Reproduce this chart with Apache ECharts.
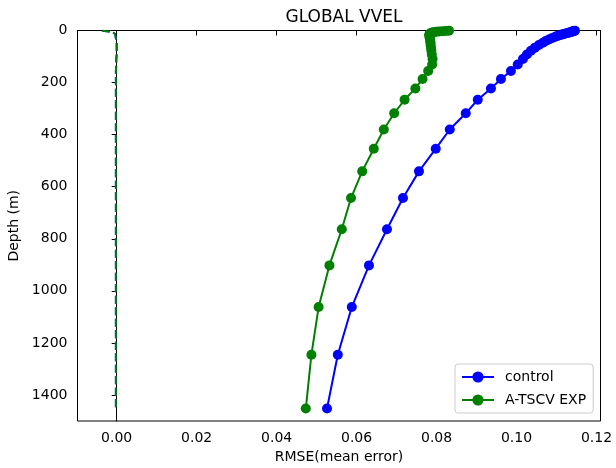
<!DOCTYPE html>
<html>
<head>
<meta charset="utf-8">
<script src="https://cdn.jsdelivr.net/npm/echarts@6/dist/echarts.min.js"></script>
<style>
  html, body { margin: 0; padding: 0; background: #fff; }
  #chart { width: 616px; height: 468px; }
</style>
</head>
<body>
<div id="chart"></div>
<script>
var chart = echarts.init(document.getElementById('chart'));

// depth levels (m)
var depths = [0.494, 1.541, 2.646, 3.819, 5.078, 6.441, 7.93, 9.573, 11.405, 13.467,
  15.81, 18.496, 21.599, 25.211, 29.445, 34.434, 40.344, 47.374, 55.764, 65.807,
  77.854, 92.326, 109.729, 130.666, 155.851, 186.126, 222.475, 266.04, 318.127, 380.213,
  453.938, 541.089, 643.567, 763.333, 902.339, 1062.44, 1245.29, 1452.25];

// RMSE per level
var controlRmse = [0.1146, 0.1144, 0.1142, 0.1140, 0.1138, 0.1135, 0.1132, 0.1128, 0.1123, 0.1118,
  0.1113, 0.1108, 0.1101, 0.1096, 0.1088, 0.1081, 0.1073, 0.1066, 0.1056, 0.1046,
  0.1036, 0.1026, 0.1016, 0.1003, 0.0986, 0.0961, 0.0936, 0.0903, 0.0873, 0.0833,
  0.0798, 0.0756, 0.0716, 0.0676, 0.0631, 0.0588, 0.0553, 0.0526];
var expRmse = [0.0831, 0.0823, 0.0815, 0.0806, 0.0799, 0.0793, 0.0789, 0.0786, 0.0784, 0.0783,
  0.0782, 0.0782, 0.0782, 0.0783, 0.0783, 0.0784, 0.0784, 0.0785, 0.0785, 0.0786,
  0.0787, 0.0788, 0.0790, 0.0789, 0.0779, 0.0765, 0.0747, 0.0720, 0.0694, 0.0668,
  0.0643, 0.0614, 0.0586, 0.0563, 0.0532, 0.0505, 0.0487, 0.0473];

// mean error per level (dashed)
var controlMean = [-0.0037, -0.0031, -0.0025, -0.0019, -0.0014, -0.0010, -0.0008, -0.0006, -0.0005, -0.0004,
  -0.0004, -0.0003, -0.0003, -0.0002, -0.0002, -0.0001, 0.0000, 0.0000, 0.0000, 0.0000,
  0.0000, 0.0000, -0.0001, -0.0001, -0.0002, -0.0002, -0.0002, -0.0002, -0.0002, -0.0002,
  -0.0002, -0.0002, -0.0002, -0.0002, -0.0002, -0.0002, -0.0002, -0.0002];
var expMean = [-0.0037, -0.0031, -0.0025, -0.0019, -0.0014, -0.0010, -0.0008, -0.0006, -0.0005, -0.0004,
  -0.0004, -0.0003, -0.0003, -0.0002, -0.0002, -0.0001, 0.0000, 0.0000, 0.0000, 0.0000,
  0.0000, 0.0000, -0.0001, -0.0001, -0.0002, -0.0002, -0.0002, -0.0002, -0.0002, -0.0002,
  -0.0002, -0.0002, -0.0002, -0.0002, -0.0002, -0.0002, -0.0002, -0.0002];

var xTicks = [0, 0.02, 0.04, 0.06, 0.08, 0.10, 0.12];
var yTicks = [0, 200, 400, 600, 800, 1000, 1200, 1400];

function pairs(vals) {
  return vals.map(function (v, i) { return [v, depths[i]]; });
}

var font = 'DejaVu Sans';

var option = {
  animation: false,
  textStyle: { fontFamily: font },
  title: {
    text: 'GLOBAL VVEL',
    left: 339,
    textAlign: 'center',
    top: 4,
    textStyle: { fontFamily: font, fontSize: 17, fontWeight: 'normal', color: '#000' }
  },
  grid: {
    left: 77.5, top: 30.5, right: 15.5, bottom: 47,
    outerBoundsMode: 'none',
    containLabel: false,
    show: true, borderColor: '#000', borderWidth: 1
  },
  legend: {
    orient: 'vertical',
    left: 455, top: 364,
    padding: [6, 7, 6, 6],
    itemGap: 9,
    itemWidth: 32,
    itemHeight: 14,
    borderColor: '#cccccc',
    borderWidth: 1,
    borderRadius: 3,
    backgroundColor: 'rgba(255,255,255,0.8)',
    data: ['control', 'A-TSCV EXP'],
    textStyle: { fontFamily: font, fontSize: 14, color: '#000', padding: [0, 0, 0, 6] }
  },
  xAxis: {
    type: 'value',
    min: -0.0098,
    max: 0.121,
    name: 'RMSE(mean error)',
    nameLocation: 'middle',
    nameGap: 28,
    nameTextStyle: { fontFamily: font, fontSize: 14, color: '#000' },
    splitLine: { show: false },
    axisLine: { show: true, lineStyle: { color: '#000', width: 1 } },
    axisTick: { show: true, inside: false, length: 5, lineStyle: { color: '#000' }, customValues: xTicks },
    axisLabel: {
      margin: 10, fontFamily: font, fontSize: 14, color: '#000',
      customValues: xTicks,
      formatter: function (v) { return v.toFixed(2); }
    }
  },
  yAxis: {
    type: 'value',
    inverse: true,
    min: 0,
    max: 1500,
    name: 'Depth (m)',
    nameLocation: 'middle',
    nameGap: 55,
    nameTextStyle: { fontFamily: font, fontSize: 14, color: '#000' },
    splitLine: { show: false },
    axisLine: { show: true, lineStyle: { color: '#000', width: 1 } },
    axisTick: { show: true, inside: false, length: 5, lineStyle: { color: '#000' }, customValues: yTicks },
    axisLabel: {
      margin: 10, fontFamily: font, fontSize: 14, color: '#000', customValues: yTicks,
      formatter: function (v) { return String(v); }
    }
  },
  series: [
    {
      name: 'control',
      type: 'line',
      data: pairs(controlRmse),
      symbol: 'circle',
      symbolSize: 10,
      showAllSymbol: true,
      color: '#0000ff',
      lineStyle: { width: 2, color: '#0000ff' },
      itemStyle: { color: '#0000ff' }
    },
    {
      name: 'control mean',
      type: 'line',
      data: pairs(controlMean),
      symbol: 'none',
      lineStyle: { width: 2, color: '#0000ff', type: [8, 3.5] }
    },
    {
      name: 'A-TSCV EXP',
      type: 'line',
      data: pairs(expRmse),
      symbol: 'circle',
      symbolSize: 10,
      showAllSymbol: true,
      color: '#008000',
      lineStyle: { width: 2, color: '#008000' },
      itemStyle: { color: '#008000' }
    },
    {
      name: 'A-TSCV EXP mean',
      type: 'line',
      data: pairs(expMean),
      symbol: 'none',
      lineStyle: { width: 2, color: '#008000', type: [8, 3.5] }
    }
  ]
};

chart.setOption(option);
</script>
</body>
</html>
